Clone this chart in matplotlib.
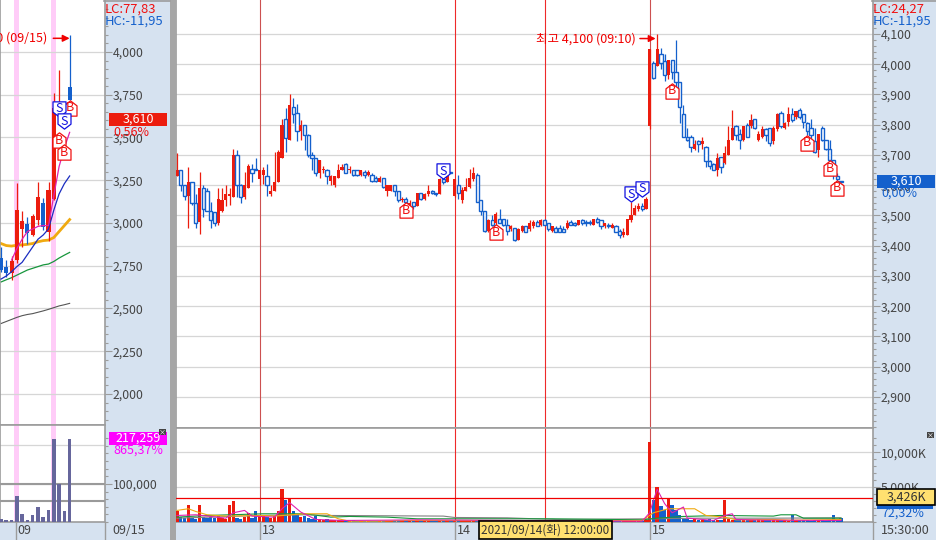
"""Two-pane stock chart: daily on the left, intraday candles on the right."""
import matplotlib

matplotlib.use("Agg")
import matplotlib.pyplot as plt
from matplotlib.patches import Rectangle
from matplotlib.path import Path

plt.rcParams["font.family"] = ["Noto Sans CJK KR", "DejaVu Sans"]

W, H = 936, 540
RED = "#ec1c0e"
BLUE = "#1460cc"
STRIP = "#d6e2f0"
EDGE = "#9c9c9c"
GRID = "#d6d6d6"
TXT = "#444444"

# ---- left pane (daily) ----
day_open = [2795, 2745, 2705, 2785, 2965, 2995, 2930, 3015, 3115, 2945, 3140, 3625, 3620, 3795]
day_high = [2860, 2785, 2805, 3235, 3070, 3035, 3055, 3240, 3145, 3240, 3760, 3895, 3680, 4100]
day_low = [2715, 2685, 2665, 2765, 2860, 2880, 2925, 2990, 2960, 2895, 3135, 3585, 3570, 3720]
day_close = [2725, 2705, 2775, 3075, 3010, 2940, 3040, 3150, 2975, 3195, 3670, 3650, 3590, 3720]
day_vol = [9000, 6200, 6200, 68000, 22000, 6200, 18000, 40000, 13000, 31000, 217000, 100000, 28000, 217259]
day_ma_orange = [2880, 2868, 2865, 2870, 2872, 2875, 2880, 2890, 2897, 2900, 2915, 2950, 2985, 3020]
day_ma_blue = [2672, 2690, 2715, 2745, 2770, 2815, 2860, 2905, 2930, 2965, 3075, 3170, 3230, 3275]
day_ma_magenta = [2783, 2850, 2905, 2950, 2965, 2980, 2985, 2985, 3160, 3330, 3440, 3530]
day_ma_green = [2655, 2668, 2680, 2695, 2710, 2725, 2735, 2745, 2755, 2760, 2775, 2795, 2812, 2828]
day_ma_gray = [2412, 2424, 2436, 2448, 2458, 2465, 2470, 2478, 2486, 2495, 2505, 2515, 2522, 2530]
day_pink = [3, 10]
day_ticks = [4000, 3750, 3500, 3250, 3000, 2750, 2500, 2250, 2000]
day_ticklabels = ["4,000", "3,750", "3,500", "3,250", "3,000", "2,750", "2,500", "2,250", "2,000"]
day_vol_levels = [100000, 55000]
day_buy = [(13, 3673), (11, 3485), (12, 3415)]
day_sell = [(11, 3667), (12, 3596)]

# ---- right pane (intraday), one list per session ----
pre_open = [3630, 3650, 3600, 3565, 3610, 3540, 3480, 3590, 3580, 3515, 3510, 3475, 3515, 3550, 3565, 3560, 3700, 3600, 3560, 3590, 3655, 3655]
pre_close = [3650, 3600, 3565, 3610, 3540, 3475, 3590, 3520, 3515, 3485, 3475, 3555, 3550, 3570, 3570, 3700, 3600, 3560, 3600, 3665, 3640, 3650]
pre_high = [3705, 3650, 3600, 3660, 3610, 3570, 3645, 3600, 3590, 3545, 3510, 3590, 3590, 3600, 3590, 3720, 3715, 3605, 3645, 3670, 3670, 3690]
pre_low = [3630, 3580, 3550, 3460, 3535, 3460, 3440, 3495, 3515, 3460, 3465, 3470, 3510, 3530, 3535, 3560, 3560, 3540, 3555, 3590, 3610, 3650]

d13_open = [3620, 3635, 3630, 3570, 3580, 3610, 3690, 3820, 3750, 3860, 3840, 3780, 3800, 3765, 3700, 3690, 3640, 3650, 3650, 3615, 3600, 3625, 3650, 3670, 3650, 3650, 3650, 3635, 3645, 3635, 3635, 3625, 3610, 3625, 3580, 3580, 3600, 3580, 3550, 3555, 3535, 3545, 3530, 3575, 3555, 3570, 3580, 3575, 3570, 3620, 3610, 3645]
d13_close = [3650, 3650, 3600, 3580, 3610, 3710, 3800, 3755, 3865, 3835, 3780, 3800, 3765, 3700, 3690, 3640, 3685, 3655, 3630, 3630, 3630, 3650, 3660, 3640, 3655, 3635, 3635, 3650, 3635, 3645, 3615, 3615, 3625, 3595, 3600, 3600, 3580, 3550, 3555, 3545, 3540, 3530, 3575, 3555, 3570, 3580, 3575, 3570, 3620, 3610, 3635, 3640]
d13_high = [3650, 3660, 3670, 3600, 3710, 3715, 3820, 3855, 3900, 3890, 3870, 3815, 3800, 3770, 3710, 3690, 3685, 3665, 3655, 3635, 3630, 3670, 3670, 3675, 3665, 3650, 3650, 3650, 3650, 3650, 3640, 3630, 3630, 3625, 3600, 3600, 3600, 3580, 3560, 3560, 3550, 3545, 3575, 3575, 3575, 3600, 3585, 3575, 3625, 3640, 3650, 3645]
d13_low = [3600, 3605, 3565, 3565, 3580, 3610, 3690, 3710, 3750, 3805, 3745, 3750, 3715, 3695, 3650, 3630, 3625, 3640, 3605, 3600, 3595, 3625, 3650, 3640, 3640, 3630, 3630, 3630, 3625, 3630, 3610, 3610, 3610, 3590, 3565, 3580, 3565, 3545, 3545, 3540, 3530, 3520, 3530, 3550, 3550, 3565, 3570, 3565, 3570, 3605, 3610, 3640]

d14_open = [3565, 3600, 3550, 3580, 3595, 3620, 3635, 3550, 3515, 3450, 3485, 3475, 3490, 3490, 3470, 3455, 3460, 3420, 3450, 3465, 3455, 3465, 3480, 3470, 3485, 3475, 3450, 3460, 3460, 3455, 3460, 3480, 3475, 3470, 3485, 3480, 3480, 3470, 3490, 3485, 3465, 3470, 3460, 3465, 3450, 3435, 3435, 3485, 3500, 3520, 3530, 3520]
d14_close = [3620, 3575, 3585, 3595, 3625, 3640, 3545, 3515, 3450, 3485, 3470, 3505, 3475, 3470, 3450, 3465, 3420, 3455, 3465, 3445, 3475, 3480, 3465, 3485, 3470, 3455, 3465, 3445, 3445, 3445, 3475, 3470, 3470, 3485, 3475, 3475, 3475, 3490, 3480, 3465, 3475, 3465, 3470, 3445, 3435, 3445, 3490, 3500, 3525, 3530, 3520, 3555]
d14_high = [3620, 3635, 3595, 3625, 3655, 3660, 3640, 3550, 3515, 3490, 3500, 3510, 3520, 3490, 3490, 3470, 3460, 3460, 3470, 3465, 3485, 3485, 3485, 3490, 3490, 3475, 3465, 3465, 3470, 3465, 3485, 3485, 3480, 3485, 3490, 3485, 3485, 3490, 3495, 3485, 3475, 3475, 3475, 3470, 3455, 3460, 3490, 3545, 3535, 3540, 3540, 3560]
d14_low = [3560, 3555, 3540, 3580, 3590, 3615, 3545, 3500, 3445, 3445, 3465, 3465, 3475, 3465, 3435, 3450, 3415, 3420, 3445, 3445, 3450, 3460, 3465, 3465, 3470, 3450, 3445, 3445, 3445, 3445, 3455, 3470, 3465, 3470, 3470, 3465, 3470, 3470, 3475, 3455, 3460, 3460, 3460, 3445, 3425, 3430, 3435, 3480, 3500, 3515, 3515, 3520]

d15_open = [3795, 4005, 3995, 4035, 4010, 3965, 4015, 3975, 3940, 3835, 3760, 3760, 3720, 3745, 3735, 3725, 3680, 3670, 3650, 3695, 3675, 3700, 3750, 3795, 3770, 3750, 3800, 3795, 3820, 3750, 3760, 3785, 3790, 3745, 3785, 3840, 3790, 3810, 3835, 3825, 3850, 3835, 3805, 3790, 3745, 3715, 3790, 3750, 3720, 3685, 3630, 3615]
d15_close = [4050, 3955, 4050, 4005, 3965, 4015, 3975, 3940, 3860, 3760, 3750, 3725, 3735, 3735, 3745, 3680, 3665, 3650, 3690, 3660, 3705, 3750, 3790, 3765, 3750, 3795, 3760, 3815, 3790, 3770, 3785, 3765, 3740, 3790, 3835, 3795, 3805, 3835, 3815, 3845, 3825, 3810, 3780, 3765, 3710, 3770, 3750, 3720, 3685, 3640, 3620, 3610]
d15_high = [4050, 4010, 4100, 4055, 4035, 4015, 4015, 4080, 3940, 3865, 3790, 3765, 3750, 3750, 3760, 3730, 3685, 3675, 3705, 3695, 3730, 3795, 3850, 3800, 3785, 3795, 3805, 3835, 3820, 3780, 3795, 3790, 3790, 3795, 3840, 3845, 3810, 3860, 3855, 3845, 3855, 3835, 3810, 3820, 3790, 3770, 3795, 3750, 3750, 3685, 3640, 3615]
d15_low = [3785, 3950, 3995, 3985, 3945, 3950, 3950, 3925, 3805, 3760, 3745, 3710, 3715, 3710, 3720, 3660, 3655, 3650, 3630, 3640, 3670, 3700, 3750, 3750, 3720, 3745, 3760, 3790, 3785, 3745, 3755, 3745, 3730, 3735, 3780, 3790, 3785, 3795, 3810, 3820, 3820, 3790, 3765, 3750, 3705, 3695, 3745, 3715, 3685, 3620, 3605, 3610]

# volume in thousands
vol_pre = [1450, 600, 500, 2425, 450, 400, 2425, 700, 500, 600, 500, 800, 500, 400, 2425, 2900, 500, 400, 600, 1250, 500, 1450]
vol_13 = [800, 800, 700, 500, 800, 1450, 4650, 3050, 3400, 1450, 1100, 700, 750, 500, 400, 750, 300, 250, 300, 200, 250, 150, 150, 200, 100, 150, 100, 120, 100, 100, 80, 100, 80, 80, 100, 120, 100, 80, 80, 60, 80, 60, 100, 80, 100, 60, 80, 60, 100, 120, 80, 60]
vol_14 = [150, 200, 120, 100, 100, 120, 180, 150, 200, 120, 100, 80, 100, 80, 120, 100, 60, 80, 60, 80, 60, 80, 50, 60, 50, 60, 50, 50, 60, 40, 60, 50, 40, 50, 40, 50, 40, 60, 50, 40, 50, 40, 50, 60, 50, 80, 100, 150, 200, 120, 100, 250]
vol_15 = [11500, 3050, 5000, 2180, 1600, 3400, 2330, 1600, 870, 400, 300, 250, 300, 200, 150, 180, 300, 200, 150, 250, 3050, 300, 250, 200, 300, 250, 200, 250, 200, 300, 200, 250, 150, 200, 250, 150, 200, 120, 870, 150, 200, 150, 200, 120, 150, 200, 150, 120, 200, 870, 350, 450]

ma_orange_x = [0, 3, 5, 8, 13, 23, 26, 34, 40, 43, 46, 53, 62, 100, 124, 127, 131, 138, 141, 146, 149, 159, 164, 177]
ma_orange_y = [1600, 1840, 1450, 970, 780, 870, 780, 1115, 1115, 390, 50, 50, 150, 100, 150, 1260, 1840, 1840, 870, 630, 240, 290, 190, 290]
ma_green_x = [0, 8, 23, 34, 41, 46, 56, 64, 100, 124, 128, 135, 145, 159, 161, 165, 167, 177]
ma_green_y = [630, 870, 1115, 1115, 630, 730, 630, 390, 390, 240, 480, 730, 870, 780, 970, 970, 480, 480]
ma_gray_x = [0, 22, 34, 41, 71, 74, 88, 101, 126, 139, 148, 159, 177]
ma_gray_y = [480, 870, 970, 870, 780, 580, 530, 290, 390, 480, 480, 480, 530]
ma_magenta_x = [0, 5, 13, 15, 18, 20, 26, 28, 30, 33, 37, 44, 55, 64, 124, 126, 127, 128, 130, 132, 135, 136, 143, 146, 148, 149, 157, 177]
ma_magenta_y = [870, 970, 480, 1260, 1600, 780, 630, 1840, 2720, 1360, 290, 150, 190, 240, 50, 1260, 3050, 4650, 2570, 1260, 2090, 490, 150, 870, 1115, 290, 190, 150]

session_starts = [22, 74, 126]
noon_idx = 98
cross_vol = 3426
intra_buy = [(61, 3518), (85, 3445), (132, 3912), (168, 3740), (174, 3657), (176, 3591)]
intra_sell = [(71, 3647), (121, 3571), (124, 3588)]
intra_ticks = [4100, 4000, 3900, 3800, 3700, 3600, 3500, 3400, 3300, 3200, 3100, 3000, 2900]
intra_ticklabels = ["4,100", "4,000", "3,900", "3,800", "3,700", "3,600", "3,500", "3,400", "3,300", "3,200", "3,100", "3,000", "2,900"]

HOUSE = Path([(0, 1), (0.85, 0.35), (0.85, -1), (-0.85, -1), (-0.85, 0.35), (0, 1)], closed=True)
SHIELD = Path([(0, -1), (0.85, -0.35), (0.85, 1), (-0.85, 1), (-0.85, -0.35), (0, -1)], closed=True)


def px_axes(fig, x0, y0, x1, y1):
    """axes from pixel box, y measured from the top"""
    return fig.add_axes([x0 / W, 1 - y1 / H, (x1 - x0) / W, (y1 - y0) / H])


def style_axis(ax, major, labels, minor, fs=8.8):
    ax.set_facecolor("white")
    ax.yaxis.tick_right()
    ax.set_xticks([])
    ax.set_yticks(major)
    ax.set_yticklabels(labels, fontsize=fs, color=TXT)
    ax.set_yticks(minor, minor=True)
    ax.tick_params(axis="y", which="major", length=4.7, width=0.8, color=EDGE, pad=1.2)
    ax.tick_params(axis="y", which="minor", length=2.2, width=0.8, color=EDGE)
    for s in ax.spines.values():
        s.set_color(EDGE)
        s.set_linewidth(1.2)
    ax.grid(axis="y", which="major", color=GRID, lw=0.9)
    ax.set_axisbelow(True)


def candles(ax, o, h, l, c, width, hollow):
    for i in range(len(o)):
        up = c[i] >= o[i]
        col = RED if up else BLUE
        ax.vlines(i, l[i], h[i], color=col, lw=0.9, zorder=3)
        bottom, height = min(o[i], c[i]), abs(c[i] - o[i])
        if up or not hollow:
            ax.bar(i, max(height, 3), bottom=bottom, width=width, color=col, lw=0, zorder=4)
        else:
            ax.bar(i, height, bottom=bottom, width=width, facecolor="white",
                   edgecolor=col, lw=1, zorder=4)


def signals(ax, buys, sells, ms=11, fs=9):
    for x, y in buys:
        ax.plot(x, y, marker=HOUSE, ms=ms, mfc="white", mec="#f01010", mew=0.9, zorder=6)
        ax.text(x, y, "B", color="#f01010", fontsize=fs, ha="center", va="center", zorder=7)
    for x, y in sells:
        ax.plot(x, y, marker=SHIELD, ms=ms, mfc="white", mec="#1010e0", mew=0.9, zorder=6)
        ax.text(x, y, "S", color="#1010e0", fontsize=fs, ha="center", va="center", zorder=7)


def draw_left(fig):
    ax = px_axes(fig, 0, 0, 104.5, 425)
    style_axis(ax, day_ticks, day_ticklabels, list(range(1850, 4300, 50)))
    ax.spines["top"].set_visible(False)
    ax.set_xlim(-0.19, 19.6)
    ax.set_ylim(1818.7, 4304)
    idx = list(range(len(day_open)))
    for i in day_pink:
        ax.axvspan(i - 0.5, i + 0.5, color="#ffccf8", lw=0, zorder=0)
    ax.plot(idx, day_ma_gray, color="#555555", lw=0.8, zorder=2)
    ax.plot(idx, day_ma_green, color="#17963c", lw=0.9, zorder=2)
    ax.plot(idx, day_ma_orange, color="#f0aa10", lw=2, zorder=2)
    ax.plot(idx, day_ma_blue, color="#1a2cc0", lw=0.9, zorder=5)
    ax.plot(idx[2:], day_ma_magenta, color="#e020b0", lw=0.9, zorder=5)
    candles(ax, day_open, day_high, day_low, day_close, 0.78, False)
    signals(ax, day_buy, day_sell)
    ax.annotate("", xy=(13, 4080), xytext=(9.9, 4080),
                arrowprops=dict(arrowstyle="-|>", color="#f00000", lw=1.1, shrinkA=0, shrinkB=0))
    ax.text(8.8, 4080, "최고 4,100 (09/15)", color="#f00000", fontsize=9, ha="right", va="center",
            clip_on=True)

    av = px_axes(fig, 0, 425, 104.5, 522)
    style_axis(av, [100000], ["100,000"], list(range(0, 240000, 20000)))
    av.set_xlim(ax.get_xlim())
    av.set_ylim(0, 254800)
    for i in day_pink:
        av.axvspan(i - 0.5, i + 0.5, color="#ffccf8", lw=0, zorder=0)
    av.axhline(201500, color=GRID, lw=0.9, zorder=1)
    for v in day_vol_levels:
        av.axhline(v, color="#9a9a9a", lw=1.5, zorder=1)
    av.bar(idx, day_vol, width=0.68, color="#66669c", lw=0, zorder=3)


def draw_right(fig):
    o = pre_open + d13_open + d14_open + d15_open
    c = pre_close + d13_close + d14_close + d15_close
    h = pre_high + d13_high + d14_high + d15_high
    l = pre_low + d13_low + d14_low + d15_low
    vol = vol_pre + vol_13 + vol_14 + vol_15
    idx = list(range(len(o)))
    line_cols = {session_starts[0]: "#cc5050", session_starts[1]: "#ee2a2a",
                 noon_idx: "#ee2a2a", session_starts[2]: "#cc5050"}

    ax = px_axes(fig, 176, 0, 872.5, 428)
    style_axis(ax, intra_ticks, intra_ticklabels, list(range(2800, 4220, 20)))
    ax.spines["top"].set_visible(False)
    ax.set_xlim(-0.27, 185.4)
    ax.set_ylim(2797.5, 4212.4)
    for s, col in line_cols.items():
        ax.axvline(s, color=col, lw=0.8, zorder=2)
    candles(ax, o, h, l, c, 0.85, True)
    signals(ax, intra_buy, intra_sell)
    ax.annotate("", xy=(session_starts[2] + 1.6, 4085), xytext=(session_starts[2] - 2.6, 4085),
                arrowprops=dict(arrowstyle="-|>", color="#f00000", lw=1.1, shrinkA=0, shrinkB=0))
    ax.text(session_starts[2] - 3.8, 4085, "최고 4,100 (09:10)", color="#f00000", fontsize=9,
            ha="right", va="center")

    av = px_axes(fig, 176, 428, 872.5, 521.5)
    style_axis(av, [5000, 10000], ["5,000K", "10,000K"], list(range(0, 13000, 1000)))
    av.set_xlim(ax.get_xlim())
    av.set_ylim(0, 13500)
    for s, col in line_cols.items():
        av.axvline(s, color=col, lw=0.8, zorder=2)
    colors = [RED if c[i] >= o[i] else BLUE for i in idx]
    av.bar(idx, vol, width=0.9, color=colors, lw=0, zorder=3)
    av.plot(ma_gray_x, ma_gray_y, color="#808080", lw=0.8, zorder=4)
    av.plot(ma_green_x, ma_green_y, color="#17963c", lw=0.8, zorder=4)
    av.plot(ma_orange_x, ma_orange_y, color="#f0aa10", lw=0.8, zorder=4)
    av.plot(ma_magenta_x, ma_magenta_y, color="#e020b0", lw=0.8, zorder=4)
    av.axhline(cross_vol, color="#f00000", lw=0.9, zorder=5)


def box_label(ov, x0, y0, x1, y1, fc, text, tc, ec="none", lw=0, fs=9):
    ov.add_patch(Rectangle((x0, y0), x1 - x0, y1 - y0, fc=fc, ec=ec, lw=lw, zorder=10))
    ov.text((x0 + x1) / 2, (y0 + y1) / 2, text, color=tc, fontsize=fs, ha="center",
            va="center", zorder=11)


def draw_overlay(fig):
    ov = fig.add_axes([0, 0, 1, 1])
    ov.set_xlim(0, W)
    ov.set_ylim(H, 0)
    ov.axis("off")
    # separator between the panes
    ov.add_patch(Rectangle((170, 0), 6, H, fc="#a6a6a6", ec="none"))
    ov.plot([104, 170], [1, 1], color=EDGE, lw=1.2)
    ov.plot([872, W], [1, 1], color=EDGE, lw=1.2)

    def label(x, y, s, col=TXT, fs=9):
        ov.text(x, y, s, color=col, fontsize=fs, ha="left", va="center", zorder=12)

    label(105, 9, "LC:77,83", "#f01010", 9.4)
    label(105, 21, "HC:-11,95", BLUE, 9.4)
    label(873, 9, "LC:24,27", "#f01010", 9.4)
    label(873, 21, "HC:-11,95", BLUE, 9.4)

    box_label(ov, 109, 113, 167, 126, "#ec1c0e", "3,610", "white")
    label(113, 132, "0,56%", "#f01010")
    box_label(ov, 877, 175, 935, 188, BLUE, "3,610", "white")
    label(881, 193, "0,00%", BLUE)
    box_label(ov, 109, 432, 167, 445, "#ff00ff", "217,259", "white")
    label(113, 450, "865,37%", "#ff00ff")

    ov.add_patch(Rectangle((877, 504), 56, 5, fc=BLUE, ec="none", zorder=9))
    label(881, 513, "72,32%", BLUE)
    box_label(ov, 877, 489, 935, 505, "#ffe070", "3,426K", "#333333", ec="black", lw=1.2)

    for x, y in [(162.5, 432), (930, 435)]:
        ov.add_patch(Rectangle((x - 3.5, y - 3), 7, 6, fc="#444444", ec="none", zorder=12))
        ov.text(x, y, "×", color="white", fontsize=5, ha="center", va="center", zorder=13)

    # time strip at the bottom
    for x, s in [(15.5, "09"), (104.5, "09/15"), (260, "13"), (455, "14"), (650, "15"), (872.5, "15:30:00")]:
        ov.plot([x, x], [522, 540], color=EDGE, lw=1)
        label(x + 2 if x < 872 and x != 104.5 else x + 8, 531, s)
    box_label(ov, 478.5, 521, 612, 538.5, "#ffe070", "2021/09/14(화) 12:00:00", "#333333",
              ec="black", lw=1.2, fs=8.4)


def main():
    fig = plt.figure(figsize=(W / 100, H / 100), dpi=100, facecolor=STRIP)
    draw_left(fig)
    draw_right(fig)
    draw_overlay(fig)
    fig.savefig("out.png", dpi=100, facecolor=fig.get_facecolor())


if __name__ == "__main__":
    main()
